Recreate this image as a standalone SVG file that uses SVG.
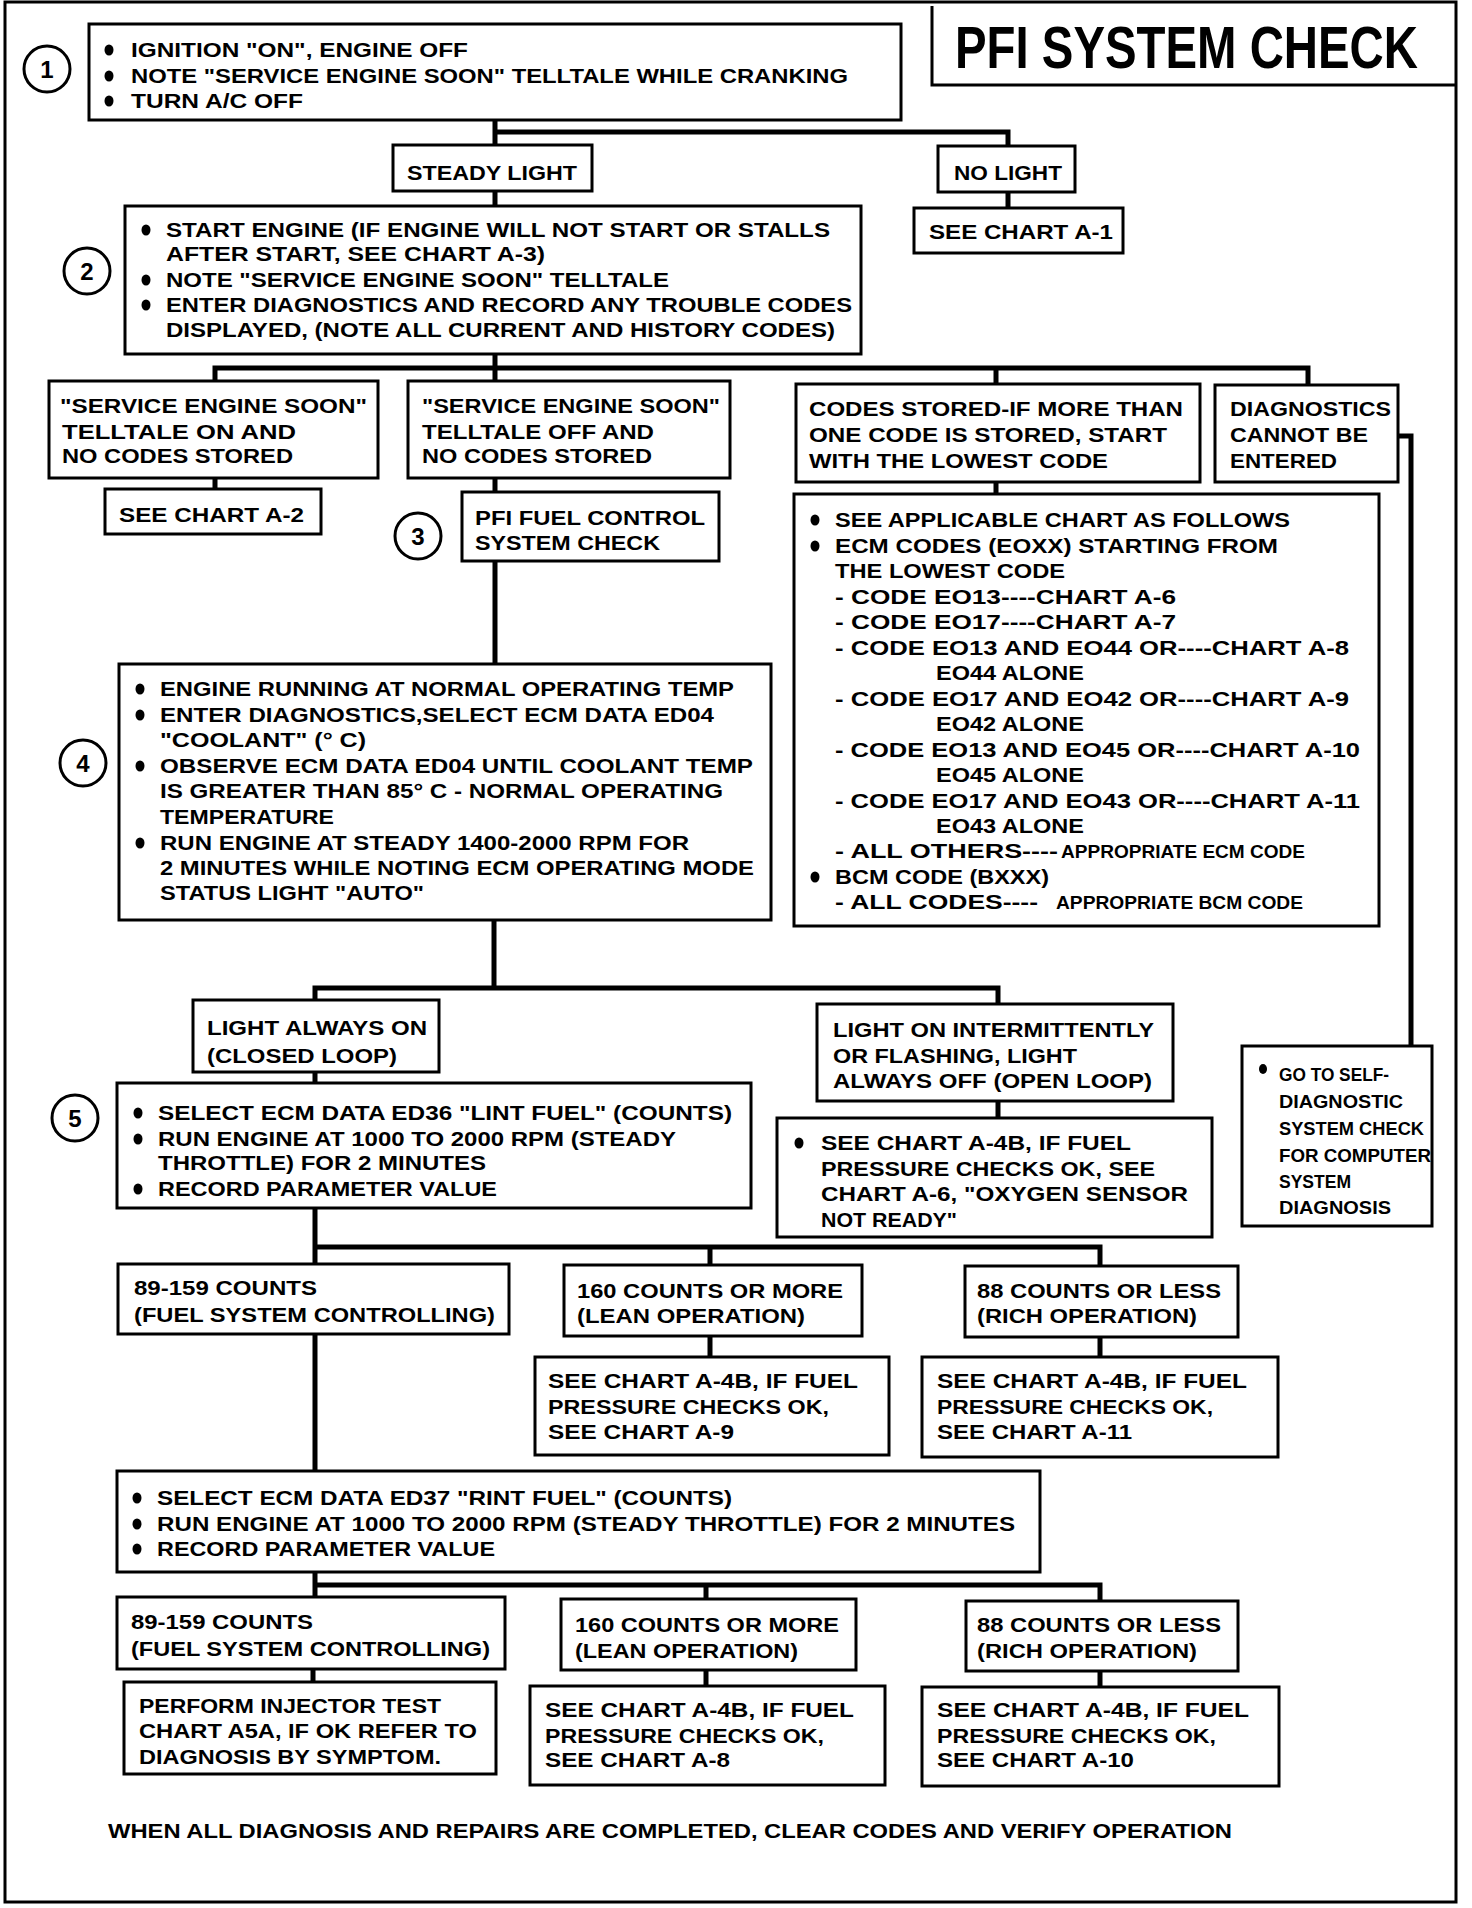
<svg xmlns="http://www.w3.org/2000/svg" width="1472" height="1908" viewBox="0 0 1472 1908">
<style>
.b{fill:#fff;stroke:#000;stroke-width:3}
.t{font-family:"Liberation Sans",Arial,sans-serif;font-weight:bold;font-size:20px;fill:#000}
.k{font-family:"Liberation Sans",Arial,sans-serif;font-weight:bold;font-size:18px;fill:#000}
.n{font-family:"Liberation Sans",Arial,sans-serif;font-weight:bold;font-size:24px;fill:#000;text-anchor:middle}
.w{fill:none;stroke:#000;stroke-width:5}
.o{fill:none;stroke:#000;stroke-width:3}
.d{fill:#000}
</style>
<rect width="1472" height="1908" fill="#fff"/>
<rect x="5" y="2" width="1451" height="1900" class="o"/>

<g id="title">
<path d="M932 6 V85 H1455" class="o"/>
<text class="t" style="font-size:46px" transform="translate(955 68) scale(1 1.28)" x="0" y="0" textLength="463" lengthAdjust="spacingAndGlyphs">PFI SYSTEM CHECK</text>
</g>

<g id="connectors">
<path class="w" d="M495 120 V145 M495 132 H1008 V146 M1008 192 V208 M495 191 V206"/>
<path class="w" d="M495 354 V381 M215 381 V368 H1308 V385 M996 368 V384"/>
<path class="w" d="M215 478 V489 M495 478 V492 M996 482 V494"/>
<path class="w" d="M1398 436 H1411 V1046"/>
<path class="w" d="M495 561 V664 M494 920 V988 M315 1000 V988 H998 V1004"/>
<path class="w" d="M315 1072 V1083 M998 1101 V1118"/>
<path class="w" d="M315 1208 V1264 M315 1247 H1100 V1266 M710 1247 V1265"/>
<path class="w" d="M710 1336 V1357 M1100 1337 V1357 M315 1334 V1471"/>
<path class="w" d="M315 1572 V1597 M315 1585 H1100 V1601 M706 1585 V1599"/>
<path class="w" d="M313 1669 V1682 M706 1670 V1686 M1100 1671 V1687"/>
</g>

<g id="step-markers">
<circle cx="47" cy="69" r="23" class="o"/><text class="n" x="47" y="78">1</text>
<circle cx="87" cy="271" r="23" class="o"/><text class="n" x="87" y="280">2</text>
<circle cx="418" cy="536" r="23" class="o"/><text class="n" x="418" y="545">3</text>
<circle cx="83" cy="763" r="23" class="o"/><text class="n" x="83" y="772">4</text>
<circle cx="75" cy="1118" r="23" class="o"/><text class="n" x="75" y="1127">5</text>
</g>

<g id="step1">
<rect x="89" y="24" width="812" height="96" class="b"/>
<ellipse cx="109" cy="50" rx="4.5" ry="5.5" class="d"/>
<ellipse cx="109" cy="76" rx="4.5" ry="5.5" class="d"/>
<ellipse cx="109" cy="101" rx="4.5" ry="5.5" class="d"/>
<text class="t" x="131" y="57" textLength="337" lengthAdjust="spacingAndGlyphs">IGNITION "ON", ENGINE OFF</text>
<text class="t" x="131" y="83" textLength="717" lengthAdjust="spacingAndGlyphs">NOTE "SERVICE ENGINE SOON" TELLTALE WHILE CRANKING</text>
<text class="t" x="131" y="108" textLength="172" lengthAdjust="spacingAndGlyphs">TURN A/C OFF</text>
</g>

<g id="steady-light">
<rect x="393" y="145" width="199" height="46" class="b"/>
<text class="t" x="407" y="180" textLength="170" lengthAdjust="spacingAndGlyphs">STEADY LIGHT</text>
</g>

<g id="no-light">
<rect x="938" y="146" width="137" height="46" class="b"/>
<text class="t" x="954" y="180" textLength="108" lengthAdjust="spacingAndGlyphs">NO LIGHT</text>
</g>

<g id="see-a1">
<rect x="914" y="208" width="209" height="45" class="b"/>
<text class="t" x="929" y="239" textLength="184" lengthAdjust="spacingAndGlyphs">SEE CHART A-1</text>
</g>

<g id="step2">
<rect x="125" y="206" width="736" height="148" class="b"/>
<ellipse cx="146" cy="230" rx="4.5" ry="5.5" class="d"/>
<ellipse cx="146" cy="280" rx="4.5" ry="5.5" class="d"/>
<ellipse cx="146" cy="305" rx="4.5" ry="5.5" class="d"/>
<text class="t" x="166" y="237" textLength="664" lengthAdjust="spacingAndGlyphs">START ENGINE (IF ENGINE WILL NOT START OR STALLS</text>
<text class="t" x="166" y="261" textLength="379" lengthAdjust="spacingAndGlyphs">AFTER START, SEE CHART A-3)</text>
<text class="t" x="166" y="287" textLength="503" lengthAdjust="spacingAndGlyphs">NOTE "SERVICE ENGINE SOON" TELLTALE</text>
<text class="t" x="166" y="312" textLength="686" lengthAdjust="spacingAndGlyphs">ENTER DIAGNOSTICS AND RECORD ANY TROUBLE CODES</text>
<text class="t" x="166" y="337" textLength="669" lengthAdjust="spacingAndGlyphs">DISPLAYED, (NOTE ALL CURRENT AND HISTORY CODES)</text>
</g>

<g id="telltale-on">
<rect x="49" y="381" width="329" height="97" class="b"/>
<text class="t" x="60" y="413" textLength="307" lengthAdjust="spacingAndGlyphs">"SERVICE ENGINE SOON"</text>
<text class="t" x="62" y="439" textLength="234" lengthAdjust="spacingAndGlyphs">TELLTALE ON  AND</text>
<text class="t" x="62" y="463" textLength="231" lengthAdjust="spacingAndGlyphs">NO CODES STORED</text>
</g>

<g id="see-a2">
<rect x="105" y="489" width="216" height="45" class="b"/>
<text class="t" x="119" y="522" textLength="185" lengthAdjust="spacingAndGlyphs">SEE CHART A-2</text>
</g>

<g id="telltale-off">
<rect x="408" y="381" width="322" height="97" class="b"/>
<text class="t" x="422" y="413" textLength="298" lengthAdjust="spacingAndGlyphs">"SERVICE ENGINE SOON"</text>
<text class="t" x="422" y="439" textLength="232" lengthAdjust="spacingAndGlyphs">TELLTALE OFF AND</text>
<text class="t" x="422" y="463" textLength="230" lengthAdjust="spacingAndGlyphs">NO CODES STORED</text>
</g>

<g id="step3">
<rect x="462" y="492" width="257" height="69" class="b"/>
<text class="t" x="475" y="525" textLength="230" lengthAdjust="spacingAndGlyphs">PFI FUEL CONTROL</text>
<text class="t" x="475" y="550" textLength="185" lengthAdjust="spacingAndGlyphs">SYSTEM CHECK</text>
</g>

<g id="codes-stored">
<rect x="796" y="384" width="404" height="98" class="b"/>
<text class="t" x="809" y="416" textLength="374" lengthAdjust="spacingAndGlyphs">CODES STORED-IF MORE THAN</text>
<text class="t" x="809" y="442" textLength="358" lengthAdjust="spacingAndGlyphs">ONE CODE IS STORED, START</text>
<text class="t" x="809" y="468" textLength="299" lengthAdjust="spacingAndGlyphs">WITH THE LOWEST CODE</text>
</g>

<g id="diag-not-entered">
<rect x="1215" y="385" width="183" height="97" class="b"/>
<text class="t" x="1230" y="416" textLength="161" lengthAdjust="spacingAndGlyphs">DIAGNOSTICS</text>
<text class="t" x="1230" y="442" textLength="138" lengthAdjust="spacingAndGlyphs">CANNOT BE</text>
<text class="t" x="1230" y="468" textLength="107" lengthAdjust="spacingAndGlyphs">ENTERED</text>
</g>

<g id="code-charts">
<rect x="794" y="494" width="585" height="432" class="b"/>
<ellipse cx="815" cy="520" rx="4.5" ry="5.5" class="d"/>
<ellipse cx="815" cy="546" rx="4.5" ry="5.5" class="d"/>
<ellipse cx="815" cy="877" rx="4.5" ry="5.5" class="d"/>
<text class="t" x="835" y="527" textLength="455" lengthAdjust="spacingAndGlyphs">SEE APPLICABLE CHART AS FOLLOWS</text>
<text class="t" x="835" y="553" textLength="443" lengthAdjust="spacingAndGlyphs">ECM CODES (EOXX) STARTING FROM</text>
<text class="t" x="835" y="578" textLength="230" lengthAdjust="spacingAndGlyphs">THE LOWEST CODE</text>
<text class="t" x="835" y="604" textLength="341" lengthAdjust="spacingAndGlyphs">- CODE EO13----CHART A-6</text>
<text class="t" x="835" y="629" textLength="341" lengthAdjust="spacingAndGlyphs">- CODE EO17----CHART A-7</text>
<text class="t" x="835" y="655" textLength="514" lengthAdjust="spacingAndGlyphs">- CODE EO13 AND EO44 OR----CHART A-8</text>
<text class="t" x="936" y="680" textLength="148" lengthAdjust="spacingAndGlyphs">EO44 ALONE</text>
<text class="t" x="835" y="706" textLength="514" lengthAdjust="spacingAndGlyphs">- CODE EO17 AND EO42 OR----CHART A-9</text>
<text class="t" x="936" y="731" textLength="148" lengthAdjust="spacingAndGlyphs">EO42 ALONE</text>
<text class="t" x="835" y="757" textLength="525" lengthAdjust="spacingAndGlyphs">- CODE EO13 AND EO45 OR----CHART A-10</text>
<text class="t" x="936" y="782" textLength="148" lengthAdjust="spacingAndGlyphs">EO45 ALONE</text>
<text class="t" x="835" y="808" textLength="525" lengthAdjust="spacingAndGlyphs">- CODE EO17 AND EO43 OR----CHART A-11</text>
<text class="t" x="936" y="833" textLength="148" lengthAdjust="spacingAndGlyphs">EO43 ALONE</text>
<text class="t" x="835" y="858" textLength="223" lengthAdjust="spacingAndGlyphs">- ALL OTHERS----</text>
<text class="k" x="1061" y="858" textLength="244" lengthAdjust="spacingAndGlyphs">APPROPRIATE ECM CODE</text>
<text class="t" x="835" y="884" textLength="214" lengthAdjust="spacingAndGlyphs">BCM CODE (BXXX)</text>
<text class="t" x="835" y="909" textLength="203" lengthAdjust="spacingAndGlyphs">- ALL CODES----</text>
<text class="k" x="1056" y="909" textLength="247" lengthAdjust="spacingAndGlyphs">APPROPRIATE BCM CODE</text>
</g>

<g id="step4">
<rect x="119" y="664" width="652" height="256" class="b"/>
<ellipse cx="140" cy="689" rx="4.5" ry="5.5" class="d"/>
<ellipse cx="140" cy="715" rx="4.5" ry="5.5" class="d"/>
<ellipse cx="140" cy="766" rx="4.5" ry="5.5" class="d"/>
<ellipse cx="140" cy="843" rx="4.5" ry="5.5" class="d"/>
<text class="t" x="160" y="696" textLength="574" lengthAdjust="spacingAndGlyphs">ENGINE RUNNING AT NORMAL OPERATING TEMP</text>
<text class="t" x="160" y="722" textLength="554" lengthAdjust="spacingAndGlyphs">ENTER DIAGNOSTICS,SELECT ECM DATA ED04</text>
<text class="t" x="160" y="747" textLength="206" lengthAdjust="spacingAndGlyphs">"COOLANT" (° C)</text>
<text class="t" x="160" y="773" textLength="593" lengthAdjust="spacingAndGlyphs">OBSERVE ECM DATA ED04 UNTIL COOLANT TEMP</text>
<text class="t" x="160" y="798" textLength="563" lengthAdjust="spacingAndGlyphs">IS GREATER THAN 85° C - NORMAL OPERATING</text>
<text class="t" x="160" y="824" textLength="174" lengthAdjust="spacingAndGlyphs">TEMPERATURE</text>
<text class="t" x="160" y="850" textLength="529" lengthAdjust="spacingAndGlyphs">RUN ENGINE AT STEADY 1400-2000 RPM FOR</text>
<text class="t" x="160" y="875" textLength="594" lengthAdjust="spacingAndGlyphs">2 MINUTES WHILE NOTING ECM OPERATING MODE</text>
<text class="t" x="160" y="900" textLength="264" lengthAdjust="spacingAndGlyphs">STATUS LIGHT "AUTO"</text>
</g>

<g id="closed-loop">
<rect x="193" y="1000" width="246" height="72" class="b"/>
<text class="t" x="207" y="1035" textLength="220" lengthAdjust="spacingAndGlyphs">LIGHT ALWAYS ON</text>
<text class="t" x="207" y="1063" textLength="190" lengthAdjust="spacingAndGlyphs">(CLOSED LOOP)</text>
</g>

<g id="open-loop">
<rect x="817" y="1004" width="356" height="97" class="b"/>
<text class="t" x="833" y="1037" textLength="321" lengthAdjust="spacingAndGlyphs">LIGHT ON INTERMITTENTLY</text>
<text class="t" x="833" y="1063" textLength="244" lengthAdjust="spacingAndGlyphs">OR FLASHING, LIGHT</text>
<text class="t" x="833" y="1088" textLength="319" lengthAdjust="spacingAndGlyphs">ALWAYS OFF (OPEN LOOP)</text>
</g>

<g id="oxygen-sensor">
<rect x="777" y="1118" width="435" height="119" class="b"/>
<ellipse cx="799" cy="1143" rx="4.5" ry="5.5" class="d"/>
<text class="t" x="821" y="1150" textLength="310" lengthAdjust="spacingAndGlyphs">SEE CHART A-4B, IF FUEL</text>
<text class="t" x="821" y="1176" textLength="334" lengthAdjust="spacingAndGlyphs">PRESSURE CHECKS OK, SEE</text>
<text class="t" x="821" y="1201" textLength="367" lengthAdjust="spacingAndGlyphs">CHART A-6, "OXYGEN SENSOR</text>
<text class="t" x="821" y="1227" textLength="136" lengthAdjust="spacingAndGlyphs">NOT READY"</text>
</g>

<g id="self-diagnostic">
<rect x="1242" y="1046" width="190" height="180" class="b"/>
<ellipse cx="1263" cy="1069" rx="4" ry="5" class="d"/>
<text class="k" x="1279" y="1081" textLength="110" lengthAdjust="spacingAndGlyphs">GO TO SELF-</text>
<text class="k" x="1279" y="1108" textLength="124" lengthAdjust="spacingAndGlyphs">DIAGNOSTIC</text>
<text class="k" x="1279" y="1135" textLength="145" lengthAdjust="spacingAndGlyphs">SYSTEM CHECK</text>
<text class="k" x="1279" y="1162" textLength="152" lengthAdjust="spacingAndGlyphs">FOR COMPUTER</text>
<text class="k" x="1279" y="1188" textLength="72" lengthAdjust="spacingAndGlyphs">SYSTEM</text>
<text class="k" x="1279" y="1214" textLength="112" lengthAdjust="spacingAndGlyphs">DIAGNOSIS</text>
</g>

<g id="step5">
<rect x="117" y="1083" width="634" height="125" class="b"/>
<ellipse cx="138" cy="1113" rx="4.5" ry="5.5" class="d"/>
<ellipse cx="138" cy="1139" rx="4.5" ry="5.5" class="d"/>
<ellipse cx="138" cy="1189" rx="4.5" ry="5.5" class="d"/>
<text class="t" x="158" y="1120" textLength="574" lengthAdjust="spacingAndGlyphs">SELECT ECM DATA ED36 "LINT FUEL" (COUNTS)</text>
<text class="t" x="158" y="1146" textLength="518" lengthAdjust="spacingAndGlyphs">RUN ENGINE AT 1000 TO 2000 RPM (STEADY</text>
<text class="t" x="158" y="1170" textLength="328" lengthAdjust="spacingAndGlyphs">THROTTLE) FOR 2 MINUTES</text>
<text class="t" x="158" y="1196" textLength="339" lengthAdjust="spacingAndGlyphs">RECORD PARAMETER VALUE</text>
</g>

<g id="lint-controlling">
<rect x="118" y="1264" width="391" height="70" class="b"/>
<text class="t" x="134" y="1295" textLength="183" lengthAdjust="spacingAndGlyphs">89-159 COUNTS</text>
<text class="t" x="134" y="1322" textLength="361" lengthAdjust="spacingAndGlyphs">(FUEL SYSTEM CONTROLLING)</text>
</g>

<g id="lint-lean">
<rect x="564" y="1265" width="298" height="71" class="b"/>
<text class="t" x="577" y="1298" textLength="266" lengthAdjust="spacingAndGlyphs">160 COUNTS OR MORE</text>
<text class="t" x="577" y="1323" textLength="228" lengthAdjust="spacingAndGlyphs">(LEAN OPERATION)</text>
</g>

<g id="lint-rich">
<rect x="965" y="1266" width="273" height="71" class="b"/>
<text class="t" x="977" y="1298" textLength="244" lengthAdjust="spacingAndGlyphs">88 COUNTS OR LESS</text>
<text class="t" x="977" y="1323" textLength="220" lengthAdjust="spacingAndGlyphs">(RICH OPERATION)</text>
</g>

<g id="see-a9">
<rect x="535" y="1357" width="354" height="98" class="b"/>
<text class="t" x="548" y="1388" textLength="310" lengthAdjust="spacingAndGlyphs">SEE CHART A-4B, IF FUEL</text>
<text class="t" x="548" y="1414" textLength="281" lengthAdjust="spacingAndGlyphs">PRESSURE CHECKS OK,</text>
<text class="t" x="548" y="1439" textLength="186" lengthAdjust="spacingAndGlyphs">SEE CHART A-9</text>
</g>

<g id="see-a11">
<rect x="922" y="1357" width="356" height="100" class="b"/>
<text class="t" x="937" y="1388" textLength="310" lengthAdjust="spacingAndGlyphs">SEE CHART A-4B, IF FUEL</text>
<text class="t" x="937" y="1414" textLength="276" lengthAdjust="spacingAndGlyphs">PRESSURE CHECKS OK,</text>
<text class="t" x="937" y="1439" textLength="195" lengthAdjust="spacingAndGlyphs">SEE CHART A-11</text>
</g>

<g id="rint">
<rect x="117" y="1471" width="923" height="101" class="b"/>
<ellipse cx="137" cy="1498" rx="4.5" ry="5.5" class="d"/>
<ellipse cx="137" cy="1524" rx="4.5" ry="5.5" class="d"/>
<ellipse cx="137" cy="1549" rx="4.5" ry="5.5" class="d"/>
<text class="t" x="157" y="1505" textLength="575" lengthAdjust="spacingAndGlyphs">SELECT ECM DATA ED37 "RINT FUEL" (COUNTS)</text>
<text class="t" x="157" y="1531" textLength="858" lengthAdjust="spacingAndGlyphs">RUN ENGINE AT 1000 TO 2000 RPM (STEADY THROTTLE) FOR 2 MINUTES</text>
<text class="t" x="157" y="1556" textLength="338" lengthAdjust="spacingAndGlyphs">RECORD PARAMETER VALUE</text>
</g>

<g id="rint-controlling">
<rect x="117" y="1597" width="388" height="72" class="b"/>
<text class="t" x="131" y="1629" textLength="182" lengthAdjust="spacingAndGlyphs">89-159 COUNTS</text>
<text class="t" x="131" y="1656" textLength="359" lengthAdjust="spacingAndGlyphs">(FUEL SYSTEM CONTROLLING)</text>
</g>

<g id="rint-lean">
<rect x="561" y="1599" width="295" height="71" class="b"/>
<text class="t" x="575" y="1632" textLength="264" lengthAdjust="spacingAndGlyphs">160 COUNTS OR MORE</text>
<text class="t" x="575" y="1658" textLength="223" lengthAdjust="spacingAndGlyphs">(LEAN OPERATION)</text>
</g>

<g id="rint-rich">
<rect x="966" y="1601" width="272" height="70" class="b"/>
<text class="t" x="977" y="1632" textLength="244" lengthAdjust="spacingAndGlyphs">88 COUNTS OR LESS</text>
<text class="t" x="977" y="1658" textLength="220" lengthAdjust="spacingAndGlyphs">(RICH OPERATION)</text>
</g>

<g id="injector-test">
<rect x="124" y="1682" width="372" height="92" class="b"/>
<text class="t" x="139" y="1713" textLength="302" lengthAdjust="spacingAndGlyphs">PERFORM INJECTOR TEST</text>
<text class="t" x="139" y="1738" textLength="338" lengthAdjust="spacingAndGlyphs">CHART A5A, IF OK REFER TO</text>
<text class="t" x="139" y="1764" textLength="302" lengthAdjust="spacingAndGlyphs">DIAGNOSIS BY SYMPTOM.</text>
</g>

<g id="see-a8">
<rect x="530" y="1686" width="355" height="99" class="b"/>
<text class="t" x="545" y="1717" textLength="309" lengthAdjust="spacingAndGlyphs">SEE CHART A-4B, IF FUEL</text>
<text class="t" x="545" y="1743" textLength="279" lengthAdjust="spacingAndGlyphs">PRESSURE CHECKS OK,</text>
<text class="t" x="545" y="1767" textLength="185" lengthAdjust="spacingAndGlyphs">SEE CHART A-8</text>
</g>

<g id="see-a10">
<rect x="922" y="1687" width="357" height="99" class="b"/>
<text class="t" x="937" y="1717" textLength="312" lengthAdjust="spacingAndGlyphs">SEE CHART A-4B, IF FUEL</text>
<text class="t" x="937" y="1743" textLength="279" lengthAdjust="spacingAndGlyphs">PRESSURE CHECKS OK,</text>
<text class="t" x="937" y="1767" textLength="197" lengthAdjust="spacingAndGlyphs">SEE CHART A-10</text>
</g>

<g id="footer">
<text class="t" x="108" y="1838" textLength="1124" lengthAdjust="spacingAndGlyphs">WHEN ALL DIAGNOSIS AND REPAIRS ARE COMPLETED, CLEAR CODES AND VERIFY OPERATION</text>
</g>
</svg>
